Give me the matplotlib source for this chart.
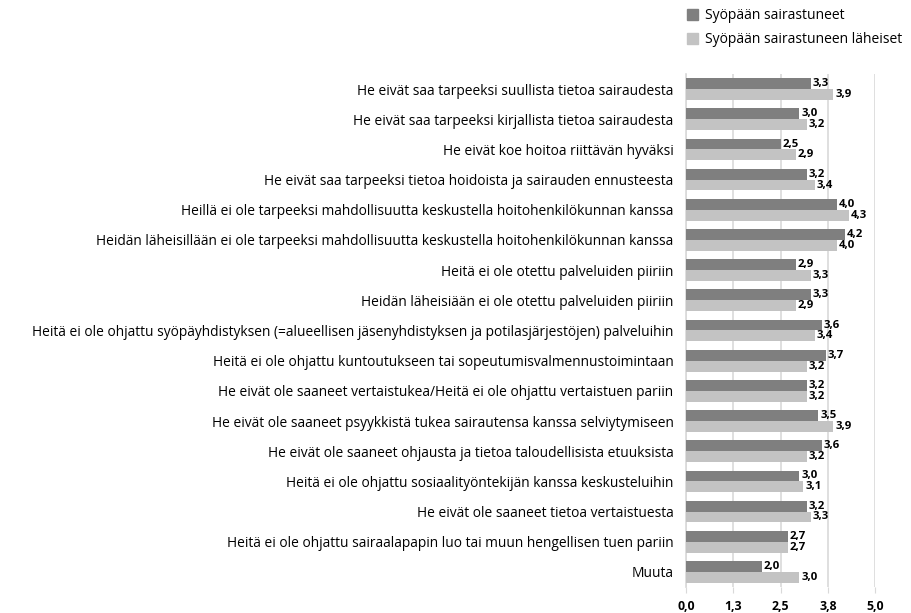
import numpy as np
import matplotlib
matplotlib.use("Agg")
import matplotlib.pyplot as plt
from matplotlib.patches import Patch

plt.rcParams['font.family'] = ['Open Sans', 'DejaVu Sans']

categories = [
    "He eivät saa tarpeeksi suullista tietoa sairaudesta",
    "He eivät saa tarpeeksi kirjallista tietoa sairaudesta",
    "He eivät koe hoitoa riittävän hyväksi",
    "He eivät saa tarpeeksi tietoa hoidoista ja sairauden ennusteesta",
    "Heillä ei ole tarpeeksi mahdollisuutta keskustella hoitohenkilökunnan kanssa",
    "Heidän läheisillään ei ole tarpeeksi mahdollisuutta keskustella hoitohenkilökunnan kanssa",
    "Heitä ei ole otettu palveluiden piiriin",
    "Heidän läheisiään ei ole otettu palveluiden piiriin",
    "Heitä ei ole ohjattu syöpäyhdistyksen (=alueellisen jäsenyhdistyksen ja potilasjärjestöjen) palveluihin",
    "Heitä ei ole ohjattu kuntoutukseen tai sopeutumisvalmennustoimintaan",
    "He eivät ole saaneet vertaistukea/Heitä ei ole ohjattu vertaistuen pariin",
    "He eivät ole saaneet psyykkistä tukea sairautensa kanssa selviytymiseen",
    "He eivät ole saaneet ohjausta ja tietoa taloudellisista etuuksista",
    "Heitä ei ole ohjattu sosiaalityöntekijän kanssa keskusteluihin",
    "He eivät ole saaneet tietoa vertaistuesta",
    "Heitä ei ole ohjattu sairaalapapin luo tai muun hengellisen tuen pariin",
    "Muuta",
]
sairastuneet = [3.3, 3.0, 2.5, 3.2, 4.0, 4.2, 2.9, 3.3, 3.6, 3.7, 3.2, 3.5, 3.6, 3.0, 3.2, 2.7, 2.0]
laheiset = [3.9, 3.2, 2.9, 3.4, 4.3, 4.0, 3.3, 2.9, 3.4, 3.2, 3.2, 3.9, 3.2, 3.1, 3.3, 2.7, 3.0]
series_names = ["Syöpään sairastuneet", "Syöpään sairastuneen läheiset"]
xticks = [0, 1.25, 2.5, 3.75, 5.0]
xtick_labels = ["0,0", "1,3", "2,5", "3,8", "5,0"]

dark = "#7f7f7f"
light = "#c3c3c3"

fig = plt.figure(figsize=(9.11, 6.13), dpi=100)
ax = fig.add_axes([686 / 911, 1 - 587 / 613, (875 - 686) / 911, (587 - 74) / 613])

y = np.arange(len(categories))
h = 0.36
ax.barh(y - h / 2, sairastuneet, height=h, color=dark, zorder=3)
ax.barh(y + h / 2, laheiset, height=h, color=light, zorder=3)

for i in range(len(categories)):
    ax.text(sairastuneet[i] + 0.05, y[i] - h / 2, f"{sairastuneet[i]:.1f}".replace(".", ","),
            va="center", ha="left", fontsize=8.2, fontweight="bold", zorder=4)
    ax.text(laheiset[i] + 0.05, y[i] + h / 2, f"{laheiset[i]:.1f}".replace(".", ","),
            va="center", ha="left", fontsize=8.2, fontweight="bold", zorder=4)

ax.set_ylim(len(categories) - 0.5, -0.5)
ax.set_xlim(0, 5.0)
ax.set_yticks(y)
ax.set_yticklabels(categories, fontsize=9.9)
ax.set_xticks(xticks)
ax.set_xticklabels(xtick_labels, fontsize=8.8, fontweight="bold")
ax.tick_params(axis="y", length=0, pad=9)
ax.tick_params(axis="x", length=4, color="#d9d9d9", pad=5)
ax.grid(axis="x", color="#d9d9d9", linewidth=1.2, zorder=0)
for s in ["top", "right", "bottom"]:
    ax.spines[s].set_visible(False)
ax.spines["left"].set_color("#d9d9d9")
ax.spines["left"].set_linewidth(1.2)

handles = [Patch(color=dark), Patch(color=light)]
fig.legend(handles, series_names, loc="upper left", bbox_to_anchor=(674 / 911, 1.007),
           frameon=False, fontsize=10, handlelength=0.85, handleheight=0.85,
           handletextpad=0.45, labelspacing=0.65)

fig.savefig("out.png", dpi=100)
